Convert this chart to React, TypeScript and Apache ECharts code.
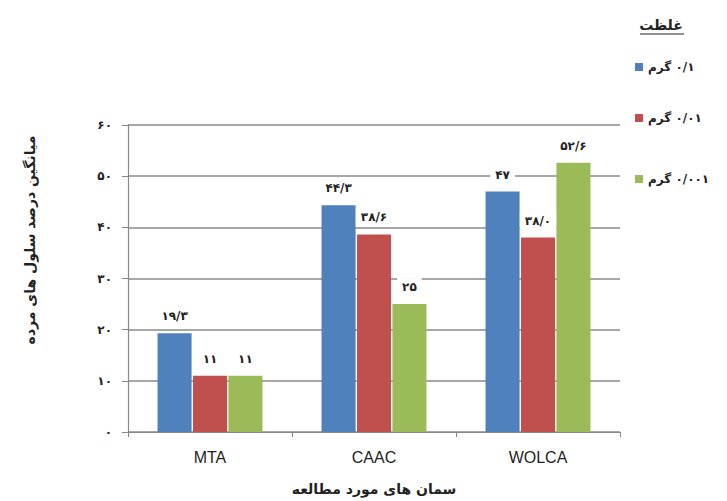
import React, { useEffect, useRef } from "react";
import * as echarts from "echarts";

const categories = ["MTA", "CAAC", "WOLCA"];
const seriesNames = ["۰/۱ گرم", "۰/۰۱ گرم", "۰/۰۰۱ گرم"];
const values01 = [19.3, 44.3, 47];
const values001 = [11, 38.6, 38];
const values0001 = [11, 25, 52.6];
const labels01 = ["۱۹/۳", "۴۴/۳", "۴۷"];
const labels001 = ["۱۱", "۳۸/۶", "۳۸/۰"];
const labels0001 = ["۱۱", "۲۵", "۵۲/۶"];
const yTicks = [0, 10, 20, 30, 40, 50, 60];
const colors = ["#4F81BD", "#C0504D", "#9BBB59"];

const legendTitle = "غلظت";
const yTitle = "میانگین درصد سلول های مرده";
const xTitle = "سمان های مورد مطالعه";

const faDigits = "۰۱۲۳۴۵۶۷۸۹";
function toFa(n: number | string): string {
  return String(n)
    .replace(/[0-9]/g, (d) => faDigits[Number(d)])
    .replace(".", "/");
}

const FONT = "'DejaVu Sans', 'Noto Sans', sans-serif";

export default function App() {
  const ref = useRef<HTMLDivElement>(null);
  useEffect(() => {
    document.body.style.margin = "0";
    if (!ref.current) return;
    const chart = echarts.init(ref.current, undefined, { renderer: "svg" });
    const allValues = [values01, values001, values0001];
    const allLabels = [labels01, labels001, labels0001];
    const legendTops = [56, 107, 168];
    chart.setOption({
      animation: false,
      backgroundColor: "#ffffff",
      grid: { left: 128, right: 107, top: 125, bottom: 69 },
      legend: seriesNames.map((name, i) => ({
        data: [name],
        orient: "vertical",
        left: 630,
        top: legendTops[i],
        itemWidth: 8,
        itemHeight: 8,
        itemGap: 10,
        icon: "rect",
        selectedMode: false,
        formatter: (n: string) => "\u200F" + n,
        textStyle: {
          fontFamily: FONT,
          fontSize: 12,
          fontWeight: "bold",
          color: "#222",
          padding: [0, 0, 0, 0],
        },
      })),
      xAxis: {
        type: "category",
        data: categories,
        axisLine: { show: true, lineStyle: { color: "#888", width: 1.2 } },
        axisTick: { show: true, length: 5, lineStyle: { color: "#888" } },
        axisLabel: {
          color: "#222",
          fontSize: 16,
          fontFamily: "'Liberation Sans', Arial, sans-serif",
          margin: 17,
        },
      },
      yAxis: {
        type: "value",
        min: 0,
        max: 60,
        interval: 10,
        axisLine: { show: true, lineStyle: { color: "#888", width: 1.2 } },
        axisTick: { show: true, length: 6, lineStyle: { color: "#888" } },
        splitLine: { show: true, lineStyle: { color: "#8a8a8a", width: 1.5 } },
        axisLabel: {
          color: "#222",
          fontSize: 12,
          fontWeight: "bold",
          fontFamily: FONT,
          margin: 16,
          formatter: (v: number) => (yTicks.includes(v) ? toFa(v) : ""),
        },
      },
      series: seriesNames.map((name, i) => ({
        name,
        type: "bar",
        barGap: "4%",
        barCategoryGap: "36%",
        itemStyle: { color: colors[i] },
        data: allValues[i].map((v, j) => ({
          value: v,
          label: { formatter: allLabels[i][j] },
        })),
        label: {
          show: true,
          position: "top",
          distance: 8,
          color: "#222",
          fontSize: 12,
          fontWeight: "bold",
          fontFamily: FONT,
          backgroundColor: "#ffffff",
          padding: [3, 5],
        },
      })),
      graphic: [
        {
          type: "text",
          x: 661,
          y: 25,
          style: {
            text: legendTitle,
            fontFamily: FONT,
            fontSize: 14,
            fontWeight: "bold",
            fill: "#222",
            align: "center",
            verticalAlign: "middle",
          },
        },
        {
          type: "line",
          shape: { x1: 640, y1: 34, x2: 684, y2: 34 },
          style: { stroke: "#222", lineWidth: 1 },
        },
        {
          type: "text",
          x: 30,
          y: 240,
          rotation: Math.PI / 2,
          style: {
            text: yTitle,
            fontFamily: FONT,
            fontSize: 14,
            fontWeight: "bold",
            fill: "#222",
            align: "center",
            verticalAlign: "middle",
          },
        },
        {
          type: "text",
          x: 374,
          y: 489,
          style: {
            text: xTitle,
            fontFamily: FONT,
            fontSize: 14,
            fontWeight: "bold",
            fill: "#222",
            align: "center",
            verticalAlign: "middle",
          },
        },
      ],
    });
    return () => chart.dispose();
  }, []);
  return <div ref={ref} style={{ width: 727, height: 501 }} />;
}
